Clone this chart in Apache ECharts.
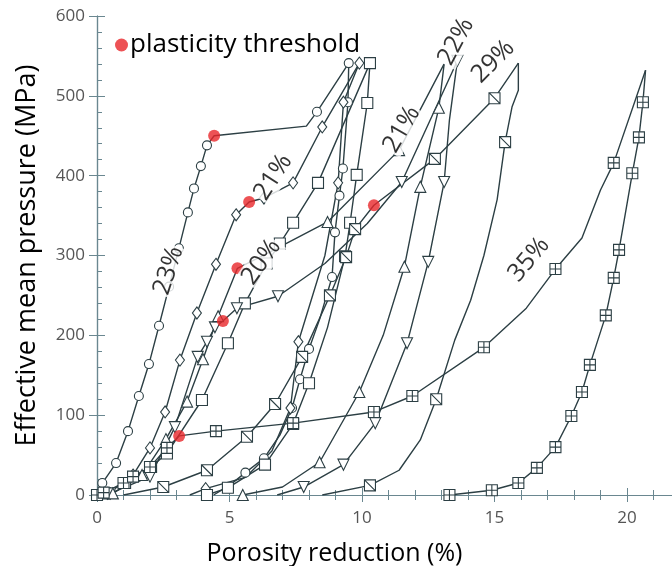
<!DOCTYPE html>
<html>
<head>
<meta charset="utf-8">
<script src="https://cdn.jsdelivr.net/npm/echarts@6/dist/echarts.min.js"></script>
<style>
html,body{margin:0;padding:0;width:672px;height:566px;overflow:hidden;background:#fff;}
#c{width:680px;height:566px;}
</style>
</head>
<body>
<div id="c"></div>
<script>
// ---- data: [x (porosity reduction %), y (MPa), marker shown 1/0] ----
const xTicks = [0, 5, 10, 15, 20];
const yTicks = [0, 100, 200, 300, 400, 500, 600];

const circ23Load = [[0,0,0],[0.2,15,1],[0.72,40,1],[1.17,80,1],[1.58,124,1],[1.96,164,1],[2.34,212,1],[2.72,261,1],[3.09,309,1],[3.43,354,1],[3.66,384,1],[3.92,412,1],[4.15,438,1],[4.42,450,0],[7.9,462,0],[8.3,480,1],[9.5,541,1]];
const circ23Unload = [[9.5,541,0],[9.47,492,1],[9.28,409,1],[9.15,375,1],[8.98,329,1],[8.87,273,1],[8.4,220,0],[8.0,183,1],[7.66,145,1],[7.36,109,1],[6.9,75,0],[6.3,46,1],[5.6,28,1],[5.0,12,0],[4.4,0,0]];

const diam21Load = [[0.4,2,1],[1.36,25,1],[2.0,59,1],[2.57,104,1],[3.13,169,1],[3.77,228,1],[4.49,289,1],[5.25,351,1],[5.74,367,0],[6.3,372,1],[7.4,391,1],[8.5,461,1],[9.9,541,1]];
const diam21Unload = [[9.9,541,0],[9.3,492,1],[9.1,391,1],[8.6,300,0],[7.6,192,1],[7.3,109,1],[6.6,55,0],[5.6,22,0],[4.1,8,1],[3.5,0,0]];

const sq20Load = [[0.3,2,1],[1.06,15,1],[2.04,35,1],[2.64,52,1],[3.96,119,1],[4.94,190,1],[5.58,240,1],[6.4,290,1],[6.9,315,1],[7.4,341,1],[8.34,391,1],[10.3,541,1]];
const sq20Unload = [[10.3,541,0],[10.2,491,1],[9.8,401,1],[9.55,341,1],[9.36,299,1],[8.7,210,0],[8.0,140,1],[7.4,89,1],[6.34,38,1],[4.94,9,1],[4.15,0,1]];

const triD22Load = [[0.5,2,1],[2.0,23,1],[2.94,85,1],[3.8,173,1],[4.15,192,1],[4.45,210,1],[4.75,218,0],[5.28,234,1],[6.83,249,1],[8.6,290,0],[10.2,340,0],[11.5,392,1],[13.6,544,1]];
const triD22Unload = [[13.6,544,0],[13.3,470,0],[13.1,392,1],[12.5,292,1],[11.7,190,1],[10.5,90,1],[9.3,38,1],[7.8,10,1],[6.8,0,0]];

const triU21Load = [[0.6,2,1],[1.7,25,1],[2.6,70,1],[3.4,117,1],[4.0,170,1],[4.57,224,1],[5.3,284,0],[6.5,304,0],[8.7,342,1],[11.4,432,1],[13.1,540,0]];
const triU21Unload = [[13.1,540,0],[12.9,485,1],[12.2,386,1],[11.6,286,1],[10.8,200,0],[9.9,129,1],[8.4,41,1],[7.0,10,0],[5.5,0,1]];

const sd29Load = [[1.0,0,0],[2.5,10,1],[4.15,31,1],[5.66,73,1],[6.72,114,1],[7.74,173,1],[8.79,250,1],[9.4,298,1],[9.74,333,1],[10.45,363,0],[12.75,421,1],[15.0,497,1],[15.9,541,0]];
const sd29Unload = [[15.9,541,0],[15.9,507,0],[15.66,486,0],[15.4,442,1],[15.1,370,0],[14.6,300,0],[14.1,244,0],[13.5,194,0],[12.8,120,1],[12.2,69,0],[11.4,31,0],[10.3,12,1],[8.5,0,0]];

const sx35Load = [[0,0,1],[0.25,3,1],[1.0,15,1],[1.36,23,1],[2.0,35,1],[2.64,59,1],[3.1,74,0],[4.49,80,1],[7.4,90,1],[10.45,104,1],[11.9,124,1],[14.6,185,1],[16.2,234,0],[17.3,283,1],[18.3,322,0],[19.0,382,0],[19.5,416,1],[20.7,532,0]];
const sx35Unload = [[20.7,532,0],[20.6,492,1],[20.45,448,1],[20.2,403,1],[19.7,307,1],[19.5,272,1],[19.2,225,1],[18.6,163,1],[18.3,129,1],[17.9,99,1],[17.3,60,1],[16.6,34,1],[15.9,15,1],[14.9,6,1],[13.3,0,1]];

const thresholds = [[4.42,450],[5.74,367],[5.3,284],[4.75,218],[3.1,74],[10.45,363]];

const pctText = ['23%','21%','20%','21%','22%','29%','35%'];
const pctX    = [2.7, 6.65, 6.2, 11.5, 13.55, 14.95, 16.3];
const pctY    = [281, 398, 292, 458, 568, 543, 295];

// ---- styles ----
const pctRotate = [72, 57, 55, 60, 62, 45, 50];
const INK = '#2c3f44';
const AX = '#6a8790';
const FONT = 'Open Sans';
const SYM = {
  circle: 'circle',
  diamond: 'diamond',
  square: 'rect',
  tri: 'triangle',
  sqDiag: 'path://M0,0L10,0L10,10L0,10Z M0,0L10,10',
  sqCross: 'path://M0,0L10,0L10,10L0,10Z M5,0L5,10 M0,5L10,5'
};

function curve(pts, sym, size, rot) {
  return {
    type: 'line',
    data: pts.map(p => ({value: [p[0], p[1]], symbol: p[2] ? sym : 'none'})),
    symbol: sym,
    symbolSize: size,
    symbolRotate: rot || 0,
    showSymbol: true,
    showAllSymbol: true,
    lineStyle: {color: INK, width: 1.4},
    itemStyle: {color: '#fff', borderColor: INK, borderWidth: 1.1},
    emphasis: {disabled: true},
    silent: true,
    z: 2
  };
}

const series = [
  curve(circ23Load, SYM.circle, 9),
  curve(circ23Unload, SYM.circle, 9),
  curve(diam21Load, SYM.diamond, [9, 12]),
  curve(diam21Unload, SYM.diamond, [9, 12]),
  curve(sq20Load, SYM.square, 11),
  curve(sq20Unload, SYM.square, 11),
  curve(triD22Load, SYM.tri, 11, 180),
  curve(triD22Unload, SYM.tri, 11, 180),
  curve(triU21Load, SYM.tri, 11),
  curve(triU21Unload, SYM.tri, 11),
  curve(sd29Load, SYM.sqDiag, 11),
  curve(sd29Unload, SYM.sqDiag, 11),
  curve(sx35Load, SYM.sqCross, 11),
  curve(sx35Unload, SYM.sqCross, 11),
  {
    name: 'plasticity threshold',
    type: 'scatter',
    data: thresholds,
    symbol: 'circle',
    symbolSize: 12,
    itemStyle: {color: '#e8272b'},
    silent: true,
    z: 5
  },
  {
    type: 'scatter',
    data: pctText.map((t, i) => ({
      value: [pctX[i], pctY[i]],
      name: t,
      label: {rotate: pctRotate[i]}
    })),
    symbolSize: 1,
    itemStyle: {color: 'rgba(0,0,0,0)'},
    label: {
      show: true,
      position: 'inside',
      formatter: p => p.name,
      fontFamily: FONT,
      fontSize: 25,
      color: '#000',
      backgroundColor: '#fff',
      padding: [0, 1],
      align: 'center',
      verticalAlign: 'middle'
    },
    silent: true,
    z: 6
  }
];

const chart = echarts.init(document.getElementById('c'), null, {renderer: 'canvas'});
chart.setOption({
  animation: false,
  backgroundColor: '#fff',
  grid: {left: 97, right: 0, top: 16, bottom: 71, containLabel: false, outerBoundsMode: 'none'},
  legend: {
    data: [{name: 'plasticity threshold', icon: 'circle'}],
    left: 110, top: 27,
    itemWidth: 13, itemHeight: 13, itemGap: 4,
    textStyle: {fontFamily: FONT, fontSize: 26, color: '#000', padding: [0, 0, 0, -3]},
    selectedMode: false
  },
  xAxis: [{
    type: 'value', min: 0, max: 22, interval: 5,
    name: 'Porosity reduction (%)', nameLocation: 'middle', nameGap: 46,
    nameTextStyle: {fontFamily: FONT, fontSize: 25, color: '#000', padding: [0, 108, 0, 0]},
    axisLine: {lineStyle: {color: AX, width: 1.2}},
    axisTick: {inside: true, length: 7, lineStyle: {color: AX}},
    minorTick: {show: true, splitNumber: 5, length: 5, lineStyle: {color: AX}},
    axisLabel: {fontFamily: FONT, fontSize: 17, color: '#555', margin: 15,
      formatter: v => xTicks.includes(v) ? String(v) : ''},
    splitLine: {show: false}
  }, {
    type: 'value', min: 0, max: 22, interval: 5, position: 'top',
    axisLine: {lineStyle: {color: AX, width: 1.2}},
    axisTick: {inside: true, length: 7, lineStyle: {color: AX}},
    minorTick: {show: true, splitNumber: 5, length: 5, lineStyle: {color: AX}},
    axisLabel: {show: false},
    splitLine: {show: false}
  }],
  yAxis: [{
    type: 'value', min: 0, max: 600, interval: 100,
    name: 'Effective mean pressure (MPa)', nameLocation: 'middle', nameGap: 56,
    nameTextStyle: {fontFamily: FONT, fontSize: 27, color: '#000'},
    axisLine: {show: true, lineStyle: {color: AX, width: 1.2}},
    axisTick: {show: true, inside: true, length: 8, lineStyle: {color: AX}},
    minorTick: {show: true, splitNumber: 5, length: 5, lineStyle: {color: AX}},
    axisLabel: {fontFamily: FONT, fontSize: 17, color: '#555', margin: 12,
      formatter: v => yTicks.includes(v) ? String(v) : ''},
    splitLine: {show: false}
  }, {
    type: 'value', min: 0, max: 600, interval: 100, position: 'right',
    axisLine: {show: true, lineStyle: {color: AX, width: 1.2}},
    axisTick: {show: true, inside: true, length: 8, lineStyle: {color: AX}},
    axisLabel: {show: false},
    splitLine: {show: false}
  }],
  series: series
});
</script>
</body>
</html>
